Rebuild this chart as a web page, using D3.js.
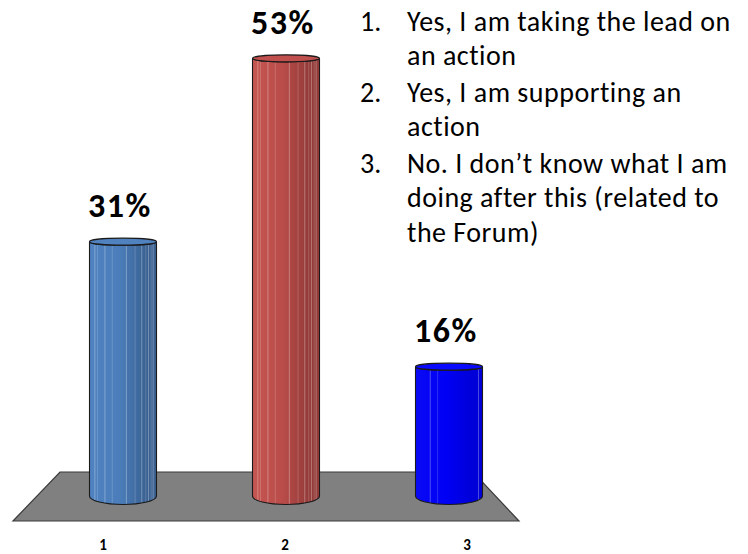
<!DOCTYPE html>
<html>
<head>
<meta charset="utf-8">
<script src="https://cdn.jsdelivr.net/npm/d3@7"></script>
<style>
  html, body { margin: 0; padding: 0; background: #fff; }
  svg { display: block; }
</style>
</head>
<body>
<svg id="chart" width="748" height="554"></svg>
<script>
// Survey answers and their shares (percent)
const categories = ["1", "2", "3"];
const values = [31, 53, 16];
const valueLabels = ["31%", "53%", "16%"];
const legendItems = [
  ["1.", ["Yes, I am taking the lead on", "an action"]],
  ["2.", ["Yes, I am supporting an", "action"]],
  ["3.", ["No. I don\u2019t know what I am", "doing after this (related to", "the Forum)"]]
];

const svg = d3.select("#chart");
const font = "Carlito, Calibri, Lato, 'Open Sans', sans-serif";

// Scales: bar centres sit on the back of the floor, labels along its front edge
const x = d3.scalePoint().domain(categories).range([123, 449]);
const xLabel = d3.scalePoint().domain(categories).range([103, 467]);
const y = d3.scaleLinear().domain([0, 60]).range([500, 0]);

const barW = 67, rx = barW / 2;
const baseY = 496, baseRy = 8.5, topRy = 3.5;

// Floor
svg.append("path")
  .attr("d", "M60,472 L473,472 L519,521 L13,521 Z")
  .attr("fill", "#808080")
  .attr("stroke", "#3a3a3a")
  .attr("stroke-width", 1.2);

// Cylinder shading per bar
const palettes = [
  { left: "#4f82c0", mid: "#4a7db9", right: "#3a6192", top: "#4f82bf" },
  { left: "#c65652", mid: "#b94c49", right: "#933b39", top: "#c0504d" },
  { left: "#0a0af5", mid: "#0000f5", right: "#0000d8", top: "#0a0aff" }
];

const defs = svg.append("defs");
palettes.forEach((p, i) => {
  const g = defs.append("linearGradient").attr("id", "cyl" + i)
    .attr("x1", 0).attr("x2", 1).attr("y1", 0).attr("y2", 0);
  g.append("stop").attr("offset", 0).attr("stop-color", p.left);
  g.append("stop").attr("offset", 0.45).attr("stop-color", p.mid);
  g.append("stop").attr("offset", 0.85).attr("stop-color", p.right);
  g.append("stop").attr("offset", 1).attr("stop-color", p.right);
});

// Thin highlight stripes across the cylinder face
const stripes = [0.08, 0.12, 0.23, 0.34, 0.55, 0.68, 0.78, 0.84, 0.88, 0.92, 0.95];

const bars = svg.selectAll("g.bar")
  .data(categories.map((c, i) => ({ c, v: values[i], i })))
  .join("g").attr("class", "bar");

bars.each(function(d) {
  const g = d3.select(this);
  const cx = x(d.c), x0 = cx - rx, x1 = cx + rx, yt = y(d.v);
  const body = `M${x0},${yt} L${x0},${baseY} A${rx},${baseRy} 0 0 0 ${x1},${baseY} L${x1},${yt} A${rx},${topRy} 0 0 1 ${x0},${yt} Z`;
  const clipId = "clip" + d.i;
  defs.append("clipPath").attr("id", clipId).append("path").attr("d", body);
  g.append("path").attr("d", body).attr("fill", `url(#cyl${d.i})`);
  g.append("g").attr("clip-path", `url(#${clipId})`)
    .selectAll("line").data(d.i === 2 ? [0.22, 0.33, 0.94] : stripes).join("line")
    .attr("x1", f => x0 + f * barW).attr("x2", f => x0 + f * barW)
    .attr("y1", yt - topRy).attr("y2", baseY + baseRy)
    .attr("stroke", "#ffffff").attr("stroke-opacity", (f, k) => k % 2 ? 0.18 : 0.3)
    .attr("stroke-width", 1);
  g.append("path").attr("d", body).attr("fill", "none")
    .attr("stroke", "#1a1a1a").attr("stroke-width", 1.1);
  g.append("ellipse").attr("cx", cx).attr("cy", yt).attr("rx", rx).attr("ry", topRy)
    .attr("fill", palettes[d.i].top).attr("stroke", "#1a1a1a").attr("stroke-width", 1.1);
  // value label
  g.append("text").attr("x", cx - 3).attr("y", yt - 24.5)
    .attr("text-anchor", "middle")
    .attr("font-family", font).attr("font-weight", "bold").attr("font-size", 34)
    .attr("letter-spacing", 1.5)
    .attr("fill", "#000").text(valueLabels[d.i]);
});

// Category labels along the front edge
svg.selectAll("text.cat").data(categories).join("text").attr("class", "cat")
  .attr("x", d => xLabel(d)).attr("y", 550)
  .attr("text-anchor", "middle")
  .attr("font-family", font).attr("font-weight", "bold").attr("font-size", 15)
  .text(d => d);

// Numbered answer list
const lineH = 34.2, itemGap = 2.8, firstY = 30.7;
let yPos = firstY;
legendItems.forEach(([num, lines]) => {
  svg.append("text").attr("x", 360).attr("y", yPos)
    .attr("font-family", font).attr("font-size", 28).text(num);
  lines.forEach(t => {
    svg.append("text").attr("x", 407).attr("y", yPos)
      .attr("font-family", font).attr("font-size", 28).attr("letter-spacing", 0.5)
      .attr("fill", "#000").text(t);
    yPos += lineH;
  });
  yPos += itemGap;
});
</script>
</body>
</html>
